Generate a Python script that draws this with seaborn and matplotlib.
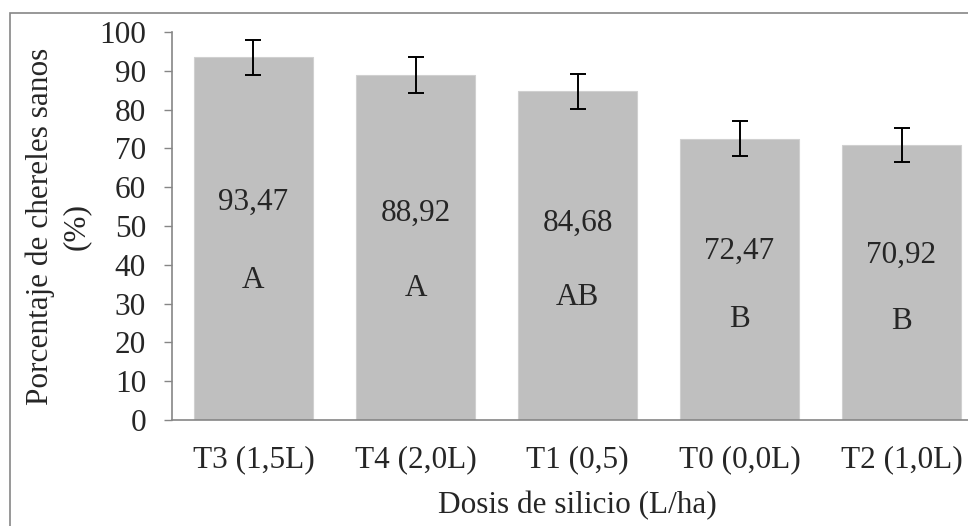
import numpy as np
import pandas as pd
import seaborn as sns
import matplotlib.pyplot as plt
from matplotlib.patches import Rectangle

# datos
tratamientos = ['T3 (1,5L)', 'T4 (2,0L)', 'T1 (0,5)', 'T0 (0,0L)', 'T2 (1,0L)']
porcentaje = [93.47, 88.92, 84.68, 72.47, 70.92]
error = [4.6, 4.6, 4.4, 4.5, 4.4]
etiquetas = ['93,47', '88,92', '84,68', '72,47', '70,92']
letras = ['A', 'A', 'AB', 'B', 'B']
letras_y = [36, 34, 31.7, 25.8, 25.3]

df = pd.DataFrame({'trat': tratamientos, 'pct': porcentaje})

sns.set_style('white')
plt.rcParams['font.family'] = ['Liberation Serif', 'DejaVu Serif']
fs = 22.5

fig = plt.figure(figsize=(9.68, 5.26), dpi=100)
ax = fig.add_axes([0.1782, 0.2015, 0.8368, 0.7376])

sns.barplot(data=df, x='trat', y='pct', color='#BFBFBF', saturation=1,
            width=0.735, errorbar=None, ax=ax, edgecolor='#D0D0D0', linewidth=0.8)
ax.errorbar(np.arange(len(porcentaje)), porcentaje, yerr=error, fmt='none',
            ecolor='black', elinewidth=1.4, capsize=6, capthick=1.4)

for i, v in enumerate(porcentaje):
    ax.text(i, v * 0.6, etiquetas[i], ha='center', va='center', fontsize=fs)
    ax.text(i, letras_y[i], letras[i], ha='center', va='center', fontsize=fs)

ax.set_ylim(0, 100)
ax.set_xlim(-0.5, 4.5)
ax.set_yticks(range(0, 101, 10))
ax.tick_params(axis='y', length=6, width=1, color='#868686', pad=13, labelsize=fs, direction='out', left=True)
ax.tick_params(axis='x', length=0, pad=18, labelsize=fs)
for s in ['top', 'right']:
    ax.spines[s].set_visible(False)
for s in ['left', 'bottom']:
    ax.spines[s].set_color('#868686')
    ax.spines[s].set_linewidth(1.2)

ax.set_xlabel('Dosis de silicio (L/ha)', fontsize=fs, labelpad=12)
ax.set_ylabel('Porcentaje de chereles sanos\n(%)', fontsize=fs, labelpad=6, linespacing=1.3)

fig.patches.append(Rectangle((10 / 968, -0.1), 1.2, 1.1 - 13 / 526, transform=fig.transFigure,
                             fill=False, edgecolor='#868686', linewidth=1.2))

fig.savefig('out.png', dpi=100)
